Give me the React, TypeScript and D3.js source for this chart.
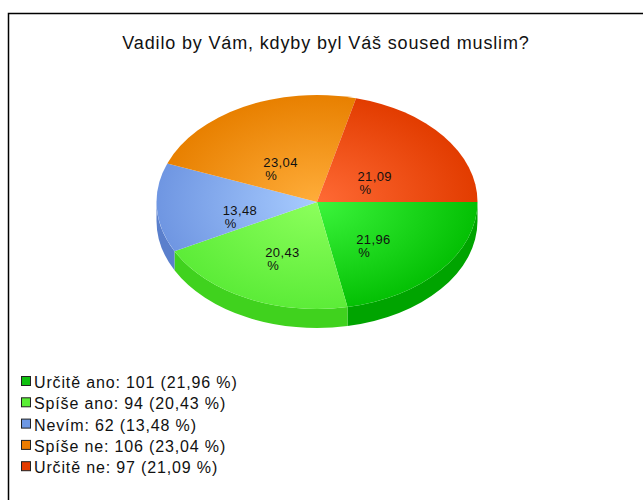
import React from "react";
import * as d3 from "d3";

const title = "Vadilo by Vám, kdyby byl Váš soused muslim?";
const categories = ["Určitě ano", "Spíše ano", "Nevím", "Spíše ne", "Určitě ne"];
const counts = [101, 94, 62, 106, 97];
const percentLabels = ["21,96", "20,43", "13,48", "23,04", "21,09"];
const topInner = ["#3cf53c", "#8cff5c", "#a8ccff", "#ffad3a", "#ff6a35"];
const topOuter = ["#04c004", "#5cec38", "#6f96e2", "#e88000", "#e23c00"];
const sideColors = ["#00a400", "#40d21e", "#5a7fcc", "#c86c00", "#c43200"];
const legendColors = ["#10c010", "#5aee36", "#6e98e4", "#ec7c00", "#e43c00"];

const W = 643;
const H = 500;
const cx = 317;
const cy = 202;
const rx = 160.5;
const ry = 107;
const depth = 19;
const FONT = "Liberation Sans, Arial, sans-serif";

function pt(a: number, dy = 0): [number, number] {
  return [cx + rx * Math.cos(a), cy + dy + ry * Math.sin(a)];
}

export default function App() {
  const total = d3.sum(counts);
  const pie = d3
    .pie<number>()
    .sort(null)
    .startAngle(0)
    .endAngle(2 * Math.PI)
    .value((d) => d);
  const arcs = pie(counts);

  const topPath = (a0: number, a1: number) => {
    const p0 = pt(a0);
    const p1 = pt(a1);
    const large = a1 - a0 > Math.PI ? 1 : 0;
    return `M${cx},${cy}L${p0[0]},${p0[1]}A${rx},${ry} 0 ${large} 1 ${p1[0]},${p1[1]}Z`;
  };
  const sidePath = (a0: number, a1: number) => {
    const s = Math.max(a0, 0);
    const e = Math.min(a1, Math.PI);
    if (e <= s) return null;
    const p0 = pt(s);
    const p1 = pt(e);
    const q1 = pt(e, depth);
    const q0 = pt(s, depth);
    return `M${p0[0]},${p0[1]}A${rx},${ry} 0 0 1 ${p1[0]},${p1[1]}L${q1[0]},${q1[1]}A${rx},${ry} 0 0 0 ${q0[0]},${q0[1]}Z`;
  };

  const fmt = d3.format(".2f");

  return (
    <svg width={W} height={H} style={{ position: "absolute", left: 0, top: 0 }}>
      <defs>
        {arcs.map((a, i) => (
          <radialGradient
            key={i}
            id={`g${i}`}
            gradientUnits="userSpaceOnUse"
            cx={cx}
            cy={cy}
            r={rx}
            gradientTransform={`translate(0 ${cy}) scale(1 ${ry / rx}) translate(0 ${-cy})`}
          >
            <stop offset="0" stopColor={topInner[i]} />
            <stop offset="1" stopColor={topOuter[i]} />
          </radialGradient>
        ))}
      </defs>
      <rect x={0} y={0} width={W} height={H} fill="#fff" />
      <path d={`M8.5,${H}V13.5H${W}`} fill="none" stroke="#000" strokeWidth={1.5} />
      <text
        x={326}
        y={49}
        textAnchor="middle"
        fontFamily={FONT}
        fontSize={18}
        letterSpacing={0.85}
        fill="#111"
      >
        {title}
      </text>
      {arcs.map((a, i) => {
        const d = sidePath(a.startAngle, a.endAngle);
        return d ? <path key={`s${i}`} d={d} fill={sideColors[i]} /> : null;
      })}
      {arcs.map((a, i) => (
        <path key={`t${i}`} d={topPath(a.startAngle, a.endAngle)} fill={`url(#g${i})`} />
      ))}
      {arcs.map((a, i) => {
        const m = (a.startAngle + a.endAngle) / 2;
        const x = cx + 0.47 * rx * Math.cos(m) - 19;
        const y = cy + 0.47 * ry * Math.sin(m) + 10;
        return (
          <g key={`l${i}`} fontFamily={FONT} fontSize={13} letterSpacing={0.4} fill="#111">
            <text x={x} y={y}>{percentLabels[i]}</text>
            <text x={x + 2} y={y + 13}>%</text>
          </g>
        );
      })}
      {categories.map((c, i) => {
        const y = 388 + i * 21.3;
        return (
          <g key={`lg${i}`}>
            <rect x={21.5} y={y - 11.5} width={9} height={9} fill={legendColors[i]} stroke="#222" strokeWidth={1} />
            <text x={34} y={y} fontFamily={FONT} fontSize={16} letterSpacing={0.85} fill="#111">
              {`${c}: ${counts[i]} (${fmt((counts[i] / total) * 100).replace(".", ",")} %)`}
            </text>
          </g>
        );
      })}
    </svg>
  );
}
